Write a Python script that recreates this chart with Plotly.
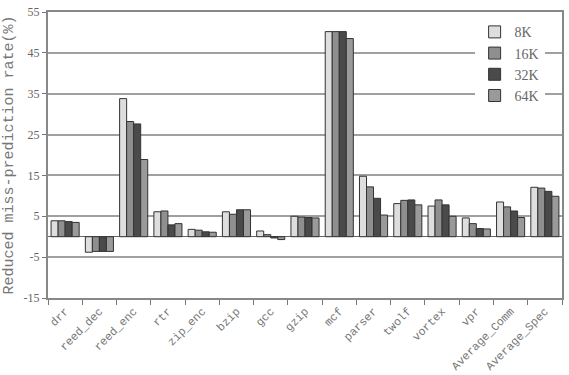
import plotly.graph_objects as go

categories = ["drr", "reed_dec", "reed_enc", "rtr", "zip_enc", "bzip", "gcc", "gzip", "mcf",
              "parser", "twolf", "vortex", "vpr", "Average_Comm", "Average_Spec"]
s8k = [3.9, -3.8, 33.8, 6.1, 1.8, 6.1, 1.4, 5.0, 50.2, 14.8, 8.1, 7.5, 4.6, 8.5, 12.1]
s16k = [3.9, -3.6, 28.2, 6.3, 1.6, 5.5, 0.5, 4.8, 50.2, 12.2, 8.9, 9.0, 3.2, 7.3, 11.9]
s32k = [3.7, -3.6, 27.6, 2.9, 1.2, 6.6, -0.3, 4.7, 50.2, 9.4, 9.0, 7.8, 2.0, 6.3, 11.1]
s64k = [3.5, -3.6, 18.9, 3.2, 1.1, 6.6, -0.7, 4.6, 48.5, 5.3, 7.8, 5.0, 1.9, 4.7, 9.9]
ytick_vals = [-15, -5, 5, 15, 25, 35, 45, 55]
ytick_text = ["-15", "-5", "5", "15", "25", "35", "45", "55"]

series = [("8K", s8k, "#dedede"), ("16K", s16k, "#8f8f8f"),
          ("32K", s32k, "#4a4a4a"), ("64K", s64k, "#9a9a9a")]

fig = go.Figure()
for name, vals, col in series:
    fig.add_trace(go.Bar(x=categories, y=vals, name=name,
                         marker=dict(color=col, line=dict(color="#333333", width=1))))

fig.update_layout(
    width=569, height=375,
    margin=dict(l=48, r=7, t=12, b=77),
    plot_bgcolor="white", paper_bgcolor="white",
    barmode="group", bargap=0.18, bargroupgap=0,
    font=dict(family="Liberation Serif", color="#555555"),
    legend=dict(x=0.83, y=0.985, xanchor="left", yanchor="top",
                bgcolor="white", font=dict(family="Liberation Serif", size=14, color="#666666"),
                itemwidth=30, tracegroupgap=0),
    xaxis=dict(tickangle=-45, tickson="boundaries", ticks="outside", ticklen=5,
               automargin=False,
               tickcolor="#777777", showline=True, linecolor="#888888", linewidth=2,
               mirror=True, tickfont=dict(family="Liberation Mono", size=11.5, color="#777777")),
    yaxis=dict(range=[-15, 55], tickmode="array", tickvals=ytick_vals, ticktext=ytick_text,
               automargin=False,
               showgrid=True, gridcolor="#a0a0a0",
               gridwidth=1.5, zeroline=True, zerolinecolor="#666666", zerolinewidth=1,
               ticks="outside", ticklen=4, tickcolor="#777777",
               showline=True, linecolor="#888888", linewidth=2, mirror=True,
               tickfont=dict(family="Liberation Serif", size=12, color="#666666"),
               title=dict(text="Reduced miss-prediction rate(%)", standoff=6,
                          font=dict(family="Liberation Mono", size=15, color="#777777"))),
)

fig.write_html("out.html")
